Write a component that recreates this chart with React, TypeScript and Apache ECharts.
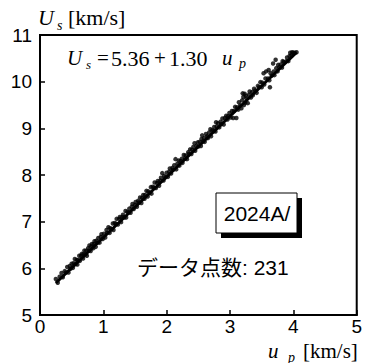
import React, { useEffect, useRef } from "react";
import * as echarts from "echarts";

const xTicks = [0, 1, 2, 3, 4, 5];
const yTicks = [5, 6, 7, 8, 9, 10, 11];
const fitIntercept = 5.36;
const fitSlope = 1.3;
const fitRange = [0.25, 4.05];
const pointCount = 231;
const stampLabel = "2024A/";

// [u_p, U_s]
const segA = [[0.25,5.77],[0.28,5.69],[0.31,5.82],[0.34,5.90],[0.36,5.81],[0.39,5.94],[0.41,5.91],[0.43,6.03],[0.45,5.91],[0.47,6.05],[0.48,5.99],[0.50,6.10],[0.52,6.01],[0.53,6.11],[0.55,6.20],[0.56,6.09],[0.58,6.18],[0.59,6.08],[0.60,6.18],[0.62,6.27],[0.63,6.16],[0.65,6.27]];
const segB = [[0.66,6.31],[0.68,6.21],[0.69,6.31],[0.70,6.38],[0.72,6.30],[0.73,6.38],[0.74,6.27],[0.76,6.43],[0.77,6.38],[0.78,6.49],[0.80,6.37],[0.81,6.47],[0.82,6.52],[0.84,6.43],[0.85,6.52],[0.86,6.58],[0.88,6.46],[0.89,6.59],[0.91,6.55],[0.92,6.65],[0.94,6.55],[0.96,6.67],[0.97,6.73],[0.99,6.63]];
const segC = [[1.01,6.74],[1.03,6.66],[1.05,6.82],[1.06,6.76],[1.08,6.88],[1.10,6.76],[1.11,6.86],[1.13,6.84],[1.15,6.96],[1.16,6.82],[1.18,6.97],[1.20,6.95],[1.21,7.06],[1.23,6.94],[1.25,7.06],[1.26,7.10],[1.28,6.99],[1.30,7.10],[1.31,7.15],[1.33,7.09],[1.35,7.23],[1.36,7.09],[1.38,7.21],[1.40,7.20],[1.41,7.28],[1.43,7.19],[1.45,7.32],[1.46,7.38],[1.48,7.27],[1.50,7.36]];
const segD = [[1.51,7.42],[1.53,7.32],[1.55,7.45],[1.56,7.41],[1.58,7.52],[1.60,7.40],[1.61,7.51],[1.63,7.57],[1.65,7.49],[1.66,7.57],[1.68,7.66],[1.70,7.54],[1.71,7.65],[1.73,7.62],[1.75,7.74],[1.76,7.60],[1.78,7.75],[1.80,7.73],[1.81,7.84],[1.83,7.72],[1.85,7.83],[1.86,7.87],[1.88,7.77],[1.90,7.88],[1.91,7.94],[1.93,8.04],[1.95,7.88],[1.96,7.98],[1.98,7.95],[2.00,8.05]];
const segE = [[2.02,7.96],[2.04,8.07],[2.05,8.14],[2.07,8.03],[2.09,8.15],[2.10,8.11],[2.12,8.21],[2.14,8.34],[2.15,8.12],[2.17,8.24],[2.19,8.31],[2.20,8.20],[2.22,8.30],[2.24,8.35],[2.25,8.26],[2.27,8.43],[2.29,8.35],[2.30,8.42],[2.32,8.34],[2.34,8.49],[2.35,8.45],[2.37,8.55],[2.39,8.45],[2.40,8.54],[2.42,8.60],[2.44,8.68],[2.45,8.52],[2.47,8.62],[2.49,8.70],[2.50,8.61]];
const segF = [[2.52,8.71],[2.54,8.62],[2.55,8.77],[2.56,8.85],[2.57,8.72],[2.59,8.79],[2.60,8.71],[2.62,8.88],[2.64,8.83],[2.65,8.79],[2.67,8.91],[2.69,8.98],[2.70,8.83],[2.72,8.96],[2.74,8.94],[2.75,9.03],[2.77,8.93],[2.78,9.13],[2.79,9.04],[2.81,9.11],[2.83,9.02],[2.85,9.14],[2.86,9.09],[2.88,9.21],[2.90,9.08],[2.92,9.22],[2.94,9.27],[2.96,9.19],[2.97,9.26],[2.99,9.33]];
const segG = [[3.01,9.23],[3.03,9.37],[3.05,9.22],[3.06,9.37],[3.08,9.46],[3.10,9.22],[3.11,9.45],[3.13,9.40],[3.14,9.56],[3.16,9.49],[3.18,9.43],[3.19,9.60],[3.20,9.75],[3.21,9.67],[3.22,9.50],[3.23,9.74],[3.24,9.55],[3.25,9.70],[3.26,9.64],[3.28,9.54],[3.30,9.72],[3.31,9.79],[3.33,9.66],[3.35,9.78],[3.36,9.71],[3.38,9.85],[3.40,9.81],[3.42,9.76],[3.44,9.91],[3.46,9.88],[3.48,9.99],[3.50,9.88]];
const segH = [[3.51,9.98],[3.53,10.18],[3.54,9.94],[3.56,10.07],[3.57,10.22],[3.60,10.07],[3.61,10.25],[3.62,10.03],[3.63,9.88],[3.64,10.18],[3.66,10.13],[3.68,10.39],[3.69,10.22],[3.70,10.14],[3.72,10.47],[3.73,10.29],[3.75,10.22],[3.76,10.36],[3.78,10.31],[3.80,10.37],[3.82,10.30],[3.83,10.44],[3.85,10.42],[3.89,10.44],[3.90,10.52],[3.92,10.44],[3.94,10.55],[3.95,10.62],[3.97,10.56],[3.98,10.63],[4.00,10.62],[4.02,10.62],[4.05,10.63]];

const points = [...segA, ...segB, ...segC, ...segD, ...segE, ...segF, ...segG, ...segH];

const SANS = "'Liberation Sans', Arial, sans-serif";
const SERIF = "'Liberation Serif', 'Times New Roman', serif";
const JP = "'Liberation Sans', 'Noto Sans CJK JP', sans-serif";

function txt(x: number, y: number, text: string, font: string, align = "left") {
  return {
    type: "text",
    x,
    y,
    silent: true,
    style: {
      text,
      font,
      fill: "#000",
      textAlign: align,
      align,
      textVerticalAlign: "middle",
      verticalAlign: "middle",
    },
  };
}

export default function App() {
  const ref = useRef<HTMLDivElement>(null);
  useEffect(() => {
    if (!ref.current) return;
    const chart = echarts.init(ref.current, undefined, { renderer: "svg" });
    const fitLine = fitRange.map((u) => [u, fitIntercept + fitSlope * u]);
    const axisCommon = {
      type: "value",
      interval: 1,
      axisLine: { show: true, lineStyle: { color: "#000", width: 2 } },
      axisTick: { show: true, inside: true, length: 5, lineStyle: { color: "#000", width: 1.5 } },
      splitLine: { show: false },
    };
    chart.setOption({
      animation: false,
      backgroundColor: "#fff",
      grid: { left: 40, right: 7, top: 35, bottom: 48, show: true, borderColor: "#000", borderWidth: 2, backgroundColor: "transparent" },
      xAxis: {
        ...axisCommon,
        min: xTicks[0],
        max: xTicks[xTicks.length - 1],
        axisLabel: { color: "#000", fontSize: 19, fontFamily: SANS, margin: 2, formatter: (v: number) => String(v) },
      },
      yAxis: {
        ...axisCommon,
        min: yTicks[0],
        max: yTicks[yTicks.length - 1],
        axisLabel: { color: "#000", fontSize: 19, fontFamily: SANS, margin: 8, formatter: (v: number) => String(v) },
      },
      series: [
        {
          type: "line",
          data: fitLine,
          symbol: "none",
          lineStyle: { color: "#000", width: 3 },
          silent: true,
          z: 2,
        },
        {
          type: "scatter",
          data: points,
          symbol: "circle",
          symbolSize: 4.5,
          itemStyle: { color: "#000" },
          silent: true,
          z: 3,
        },
      ],
      graphic: [
        txt(38, 17, "U", `italic 22px ${SERIF}`),
        txt(57, 25, "s", `italic 14px ${SERIF}`),
        txt(68, 17, "[km/s]", `22px ${SERIF}`),
        txt(67, 58, "U", `italic 21px ${SERIF}`),
        txt(86, 64, "s", `italic 13px ${SERIF}`),
        txt(97, 58, "=", `21px ${SERIF}`),
        txt(111, 58, "5.36", `22px ${SERIF}`),
        txt(154, 58, "+", `21px ${SERIF}`),
        txt(169, 58, "1.30", `22px ${SERIF}`),
        txt(222, 58, "u", `italic 21px ${SERIF}`),
        txt(239, 63, "p", `italic 14px ${SERIF}`),
        txt(268, 351, "u", `italic 21px ${SERIF}`),
        txt(288, 357, "p", `italic 14px ${SERIF}`),
        txt(303, 351, "[km/s]", `21px ${SERIF}`),
        { type: "rect", silent: true, shape: { x: 221, y: 198, width: 81, height: 40 }, style: { fill: "#000" } },
        { type: "rect", silent: true, shape: { x: 216, y: 193, width: 81, height: 40 }, style: { fill: "#fff", stroke: "#000", lineWidth: 1 } },
        txt(257, 213, stampLabel, `21px ${SANS}`, "center"),
        txt(137, 267, `データ点数: ${pointCount}`, `21px ${JP}`),
      ],
    });
    return () => chart.dispose();
  }, []);
  return <div ref={ref} style={{ position: "fixed", left: 0, top: 0, width: 365, height: 363 }} />;
}
